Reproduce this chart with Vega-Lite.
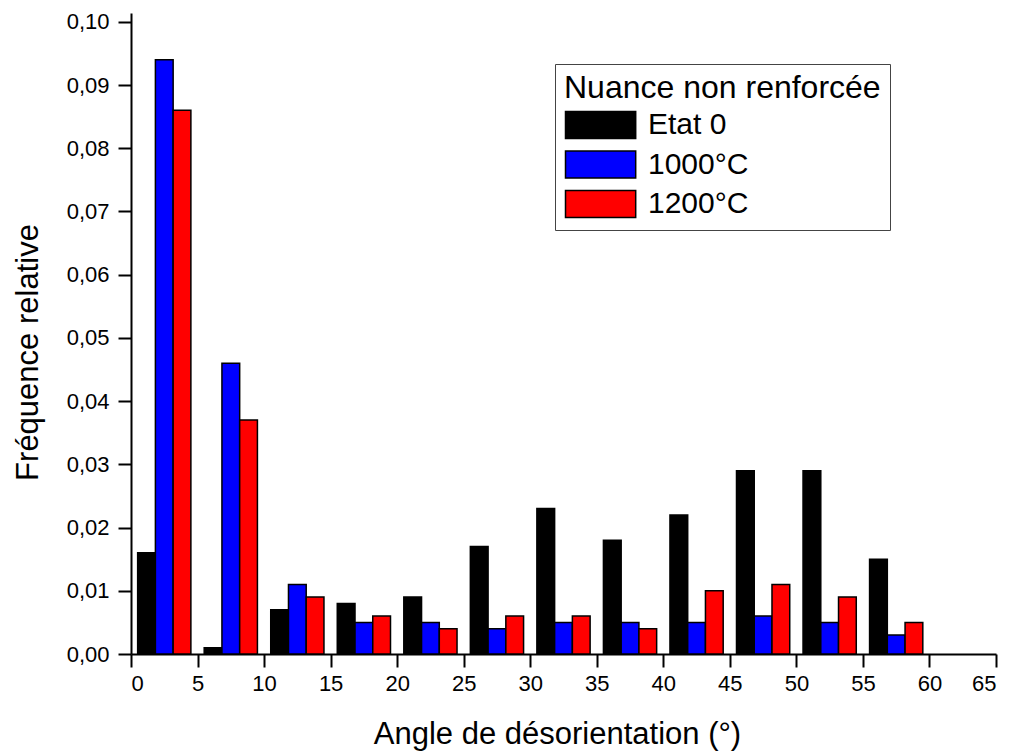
{
  "$schema": "https://vega.github.io/schema/vega-lite/v6.json",
  "width": 865,
  "height": 641,
  "autosize": {"type": "none"},
  "padding": {"left": 131, "top": 13, "right": 18, "bottom": 102},
  "background": "white",
  "config": {
    "font": "Liberation Sans",
    "view": {"stroke": null},
    "axis": {
      "grid": false,
      "domainColor": "black",
      "domainWidth": 2,
      "tickColor": "black",
      "tickWidth": 2,
      "tickSize": 13,
      "labelFont": "Liberation Sans",
      "labelFontSize": 22,
      "labelColor": "black",
      "titleFont": "Liberation Sans",
      "titleFontSize": 31,
      "titleFontWeight": "normal",
      "titleColor": "black"
    },
    "legend": {
      "titleFont": "Liberation Sans",
      "labelFont": "Liberation Sans"
    }
  },
  "data": {
    "values": [
      {"bin": 0, "series": "Etat 0", "freq": 0.016},
      {"bin": 0, "series": "1000°C", "freq": 0.094},
      {"bin": 0, "series": "1200°C", "freq": 0.086},
      {"bin": 5, "series": "Etat 0", "freq": 0.001},
      {"bin": 5, "series": "1000°C", "freq": 0.046},
      {"bin": 5, "series": "1200°C", "freq": 0.037},
      {"bin": 10, "series": "Etat 0", "freq": 0.007},
      {"bin": 10, "series": "1000°C", "freq": 0.011},
      {"bin": 10, "series": "1200°C", "freq": 0.009},
      {"bin": 15, "series": "Etat 0", "freq": 0.008},
      {"bin": 15, "series": "1000°C", "freq": 0.005},
      {"bin": 15, "series": "1200°C", "freq": 0.006},
      {"bin": 20, "series": "Etat 0", "freq": 0.009},
      {"bin": 20, "series": "1000°C", "freq": 0.005},
      {"bin": 20, "series": "1200°C", "freq": 0.004},
      {"bin": 25, "series": "Etat 0", "freq": 0.017},
      {"bin": 25, "series": "1000°C", "freq": 0.004},
      {"bin": 25, "series": "1200°C", "freq": 0.006},
      {"bin": 30, "series": "Etat 0", "freq": 0.023},
      {"bin": 30, "series": "1000°C", "freq": 0.005},
      {"bin": 30, "series": "1200°C", "freq": 0.006},
      {"bin": 35, "series": "Etat 0", "freq": 0.018},
      {"bin": 35, "series": "1000°C", "freq": 0.005},
      {"bin": 35, "series": "1200°C", "freq": 0.004},
      {"bin": 40, "series": "Etat 0", "freq": 0.022},
      {"bin": 40, "series": "1000°C", "freq": 0.005},
      {"bin": 40, "series": "1200°C", "freq": 0.010},
      {"bin": 45, "series": "Etat 0", "freq": 0.029},
      {"bin": 45, "series": "1000°C", "freq": 0.006},
      {"bin": 45, "series": "1200°C", "freq": 0.011},
      {"bin": 50, "series": "Etat 0", "freq": 0.029},
      {"bin": 50, "series": "1000°C", "freq": 0.005},
      {"bin": 50, "series": "1200°C", "freq": 0.009},
      {"bin": 55, "series": "Etat 0", "freq": 0.015},
      {"bin": 55, "series": "1000°C", "freq": 0.003},
      {"bin": 55, "series": "1200°C", "freq": 0.005}
    ]
  },
  "layer": [
    {
      "mark": {"type": "bar", "stroke": "black", "strokeWidth": 1.5},
      "encoding": {
        "x": {
          "field": "bin",
          "type": "ordinal",
          "scale": {
            "domain": [0, 5, 10, 15, 20, 25, 30, 35, 40, 45, 50, 55, 60],
            "paddingInner": 0.2,
            "paddingOuter": 0.1
          },
          "axis": null
        },
        "xOffset": {
          "field": "series",
          "type": "nominal",
          "scale": {"domain": ["Etat 0", "1000°C", "1200°C"], "paddingInner": 0, "paddingOuter": 0}
        },
        "y": {
          "field": "freq",
          "type": "quantitative",
          "scale": {"domain": [0, 0.1014], "nice": false},
          "axis": {
            "title": "Fréquence relative",
            "values": [0, 0.01, 0.02, 0.03, 0.04, 0.05, 0.06, 0.07, 0.08, 0.09, 0.1],
            "labelExpr": "replace(format(datum.value, '.2f'), '.', ',')",
            "labelPadding": 9,
            "titlePadding": 22,
            "titleY": 339
          }
        },
        "fill": {
          "field": "series",
          "type": "nominal",
          "scale": {"domain": ["Etat 0", "1000°C", "1200°C"], "range": ["#000000", "#0000ff", "#ff0000"]},
          "legend": {
            "title": "Nuance non renforcée",
            "orient": "none",
            "legendX": 424,
            "legendY": 51,
            "strokeColor": "#444444",
            "fillColor": "white",
            "padding": 9,
            "titleFontSize": 32,
            "titleFontWeight": "normal",
            "titleColor": "black",
            "titleLimit": 600,
            "titlePadding": 5,
            "labelFontSize": 30,
            "labelColor": "black",
            "labelLimit": 400,
            "labelOffset": 54,
            "symbolType": "M-1,-1H4.2V1H-1Z",
            "symbolSize": 729,
            "symbolStrokeColor": "black",
            "symbolStrokeWidth": 1.5,
            "rowPadding": 5.5
          }
        }
      }
    },
    {
      "mark": {"type": "point", "opacity": 0},
      "encoding": {
        "x": {
          "field": "bin",
          "type": "quantitative",
          "scale": {"domain": [0, 65], "nice": false, "zero": true},
          "axis": {
            "title": "Angle de désorientation (°)",
            "values": [0, 5, 10, 15, 20, 25, 30, 35, 40, 45, 50, 55, 60, 65],
            "format": "d",
            "labelPadding": 6,
            "titlePadding": 25,
            "titleX": 426
          }
        }
      }
    }
  ],
  "resolve": {"scale": {"x": "independent"}}
}
